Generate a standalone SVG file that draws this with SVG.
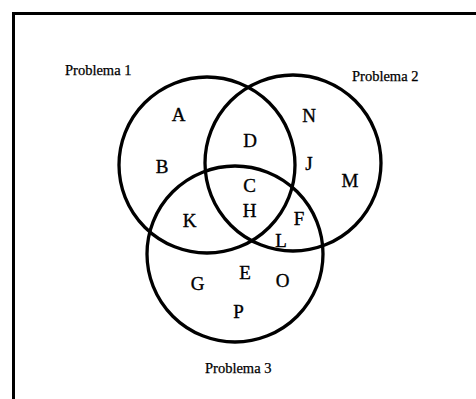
<svg xmlns="http://www.w3.org/2000/svg" width="476" height="399" viewBox="0 0 476 399">
<style>
.frame{fill:none;stroke:#000;stroke-width:3}
.c{fill:none;stroke:#000;stroke-width:3.3}
.t{font-family:"Liberation Serif","Times New Roman",serif;fill:#000;stroke:#000;stroke-width:0.35}
.lab{font-size:14.5px;stroke-width:0.25}
.el{font-size:19px;text-anchor:middle}
</style>
<rect width="476" height="399" fill="#fff"/>
<path class="frame" d="M13.5,399 V13.5 H476"/>
<g id="set1"><circle class="c" cx="207" cy="165" r="88"/><text class="t lab" x="65" y="75">Problema 1</text></g>
<g id="set2"><circle class="c" cx="293" cy="163" r="88"/><text class="t lab" x="352" y="81">Problema 2</text></g>
<g id="set3"><circle class="c" cx="235" cy="254" r="88"/><text class="t lab" x="205" y="373">Problema 3</text></g>
<g id="elements" class="t el">
<text x="178.5" y="121">A</text>
<text x="309" y="122">N</text>
<text x="250" y="147">D</text>
<text x="162" y="173">B</text>
<text x="309" y="170">J</text>
<text x="350" y="187">M</text>
<text x="249.5" y="192">C</text>
<text x="249.5" y="217">H</text>
<text x="189.5" y="227">K</text>
<text x="299" y="225">F</text>
<text x="281" y="247">L</text>
<text x="245" y="279">E</text>
<text x="197.5" y="290">G</text>
<text x="282.5" y="287">O</text>
<text x="238.5" y="318">P</text>
</g>
</svg>
